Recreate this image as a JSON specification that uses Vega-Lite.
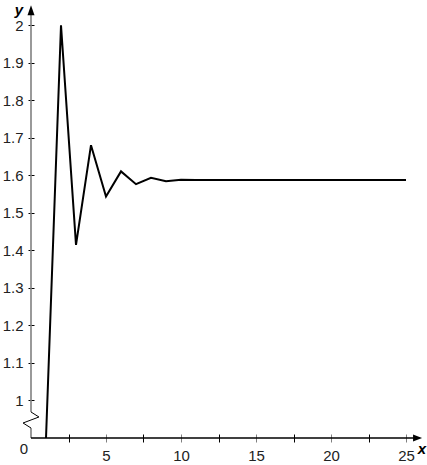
{
  "$schema": "https://vega.github.io/schema/vega-lite/v6.json",
  "autosize": {"type": "none"},
  "padding": {"left": 31, "top": 8, "right": 6, "bottom": 27},
  "width": 390,
  "height": 430,
  "background": "white",
  "config": {"view": {"stroke": null}, "font": "Liberation Sans"},
  "data": {"values": [{}]},
  "resolve": {"axis": {"x": "independent", "y": "independent"}},
  "layer": [
    {
      "mark": {"type": "rule", "color": "#808080", "strokeWidth": 1.6},
      "encoding": {
        "x": {"datum": 0, "type": "quantitative", "scale": {"domain": [0, 26], "nice": false, "zero": false}, "axis": null},
        "y": {"datum": 0.684, "type": "quantitative", "scale": {"domain": [0, 1, 2.046], "range": [430, 392, 0], "nice": false, "zero": false}, "axis": null},
        "y2": {"datum": 2.03}
      }
    },
    {
      "mark": {"type": "rule", "color": "#808080", "strokeWidth": 1.6},
      "encoding": {
        "x": {"datum": 0, "type": "quantitative", "axis": null},
        "y": {"datum": 0, "type": "quantitative", "axis": null},
        "y2": {"datum": 0.263}
      }
    },
    {
      "data": {"values": [
        {"k": 1, "bx": 0, "by": 0.684},
        {"k": 2, "bx": 0.53, "by": 0.553},
        {"k": 3, "bx": -0.53, "by": 0.395},
        {"k": 4, "bx": 0, "by": 0.263}
      ]},
      "mark": {"type": "line", "color": "black", "strokeWidth": 1},
      "encoding": {
        "x": {"field": "bx", "type": "quantitative", "axis": null},
        "y": {"field": "by", "type": "quantitative", "axis": null},
        "order": {"field": "k"}
      }
    },
    {
      "mark": {"type": "rule", "color": "black", "strokeWidth": 1.5},
      "encoding": {
        "x": {"datum": 0, "type": "quantitative", "axis": null},
        "x2": {"datum": 25.7},
        "y": {"datum": 0, "type": "quantitative", "axis": null}
      }
    },
    {
      "mark": {"type": "point", "shape": "M0,-1L0.7,1L-0.7,1Z", "filled": true, "color": "black", "size": 100, "opacity": 1},
      "encoding": {
        "x": {"datum": 0, "type": "quantitative", "axis": null},
        "y": {"datum": 2.04, "type": "quantitative", "axis": null}
      }
    },
    {
      "mark": {"type": "point", "shape": "M1,0L-1,0.8L-1,-0.8Z", "filled": true, "color": "black", "size": 81, "opacity": 1},
      "encoding": {
        "x": {"datum": 25.77, "type": "quantitative", "axis": null},
        "y": {"datum": 0, "type": "quantitative", "axis": null}
      }
    },
    {
      "data": {"values": [
        {"n": 1, "a": 0},
        {"n": 2, "a": 2.0},
        {"n": 3, "a": 1.414},
        {"n": 4, "a": 1.68},
        {"n": 5, "a": 1.543},
        {"n": 6, "a": 1.61},
        {"n": 7, "a": 1.576},
        {"n": 8, "a": 1.593},
        {"n": 9, "a": 1.584},
        {"n": 10, "a": 1.588},
        {"n": 11, "a": 1.587},
        {"n": 12, "a": 1.587},
        {"n": 13, "a": 1.587},
        {"n": 14, "a": 1.587},
        {"n": 15, "a": 1.587},
        {"n": 16, "a": 1.587},
        {"n": 17, "a": 1.587},
        {"n": 18, "a": 1.587},
        {"n": 19, "a": 1.587},
        {"n": 20, "a": 1.587},
        {"n": 21, "a": 1.587},
        {"n": 22, "a": 1.587},
        {"n": 23, "a": 1.587},
        {"n": 24, "a": 1.587},
        {"n": 25, "a": 1.587}
      ]},
      "mark": {"type": "line", "color": "black", "strokeWidth": 2, "strokeJoin": "miter"},
      "encoding": {
        "x": {
          "field": "n",
          "type": "quantitative",
          "axis": {
            "orient": "bottom",
            "title": null,
            "domain": false,
            "offset": -4,
            "tickSize": 8,
            "tickWidth": 1,
            "tickColor": {"condition": {"test": "datum.value % 5 === 0", "value": "#808080"}, "value": "black"},
            "values": [2.5, 5, 7.5, 10, 12.5, 15, 17.5, 20, 22.5, 25],
            "format": "~g",
            "labelExpr": "datum.value % 5 === 0 ? datum.label : ''",
            "labelFontSize": 15,
            "labelColor": "#222",
            "labelPadding": 6,
            "grid": false
          }
        },
        "y": {
          "field": "a",
          "type": "quantitative",
          "axis": {
            "orient": "left",
            "title": null,
            "domain": false,
            "offset": -3,
            "tickSize": 6,
            "tickWidth": 1,
            "tickColor": "black",
            "values": [1, 1.1, 1.2, 1.3, 1.4, 1.5, 1.6, 1.7, 1.8, 1.9, 2],
            "format": ".1~f",
            "labelFontSize": 15,
            "labelColor": "#222",
            "labelPadding": 5,
            "grid": false
          }
        }
      }
    },
    {
      "mark": {"type": "text", "text": "0", "fontSize": 15, "color": "#222", "baseline": "middle", "dx": -7, "dy": 11},
      "encoding": {
        "x": {"datum": 0, "type": "quantitative", "axis": null},
        "y": {"datum": 0, "type": "quantitative", "axis": null}
      }
    },
    {
      "mark": {"type": "text", "text": "y", "fontSize": 15, "fontWeight": "bold", "fontStyle": "italic", "baseline": "middle", "dx": -12, "dy": 2},
      "encoding": {
        "x": {"datum": 0, "type": "quantitative", "axis": null},
        "y": {"datum": 2.046, "type": "quantitative", "axis": null}
      }
    },
    {
      "mark": {"type": "text", "text": "x", "fontSize": 15, "fontWeight": "bold", "fontStyle": "italic", "baseline": "middle", "dx": 1, "dy": 11},
      "encoding": {
        "x": {"datum": 26, "type": "quantitative", "axis": null},
        "y": {"datum": 0, "type": "quantitative", "axis": null}
      }
    }
  ]
}
